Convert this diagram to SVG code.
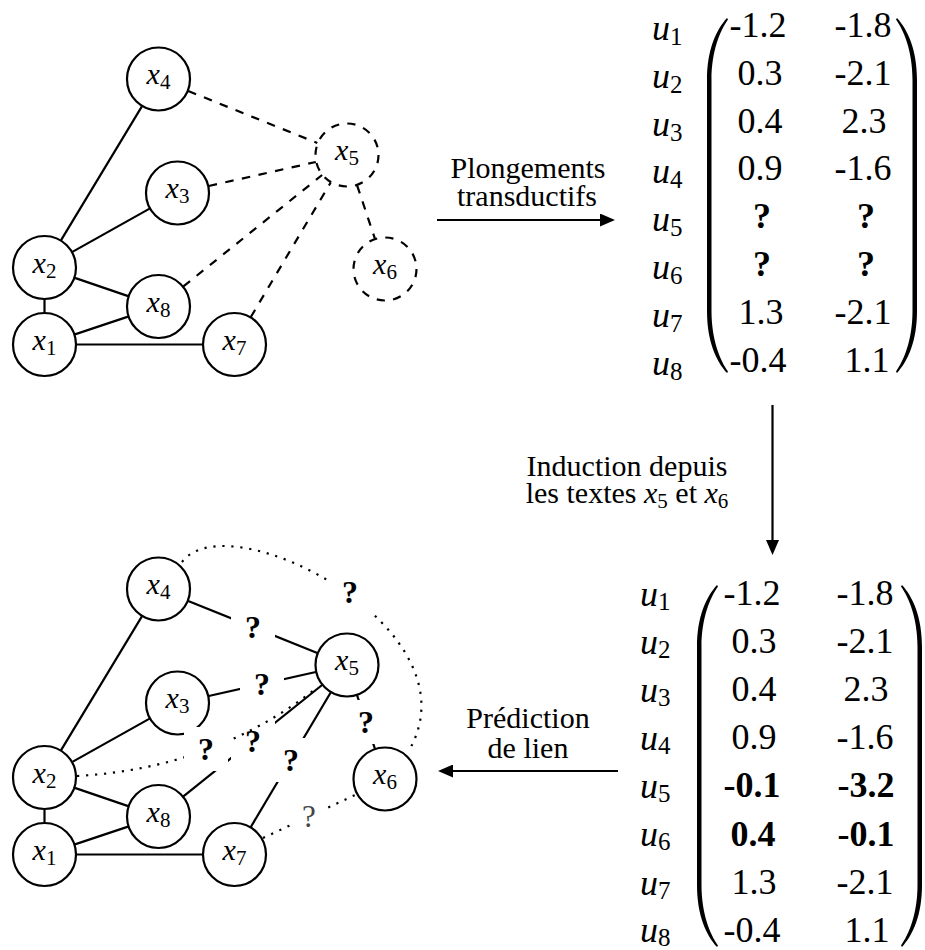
<svg xmlns="http://www.w3.org/2000/svg" width="925" height="950" viewBox="0 0 925 950" font-family="'Liberation Serif', 'DejaVu Serif', 'Noto Serif', serif">
<defs>
<style>
text{font-family:'Liberation Serif','DejaVu Serif','Noto Serif',serif}
.nc{fill:#fff;stroke:#000;stroke-width:2.2}
.dn{stroke-dasharray:8.25 8.25}
.lbl{font-size:30px;font-style:italic;text-anchor:middle;fill:#000}
.lbl tspan,.txt tspan.s{font-style:normal;font-size:21px}
.e{stroke:#000;stroke-width:2.2;fill:none}
.dash{stroke-dasharray:8.5 8.5}
.dot{stroke-dasharray:2.2 6.8}
.q{font-weight:bold;font-size:32px;text-anchor:middle;fill:#000}
.q2{font-size:31px;text-anchor:middle;fill:#444}
.qb{fill:#fff}
.txt{font-size:30px;text-anchor:middle;fill:#000}
.txt tspan.i{font-style:italic}
.num{font-size:36px;text-anchor:middle;fill:#000}
.b{font-weight:bold}
.u{font-size:36px;font-style:italic;fill:#000}
.u tspan{font-style:normal;font-size:25px}
.par{fill:#000}
.arr{stroke:#000;stroke-width:2.2;fill:none;marker-end:url(#ah)}
</style>
<marker id="ah" markerWidth="15" markerHeight="13" refX="3" refY="6.5" orient="auto" markerUnits="userSpaceOnUse">
<path d="M0,0 L15,6.5 L0,13 Z" fill="#000"/>
</marker>
</defs>
<rect width="925" height="950" fill="#fff"/>

<!-- ===== Top graph nodes ===== -->
<g id="top-nodes">
<g id="t-x1"><circle class="nc" cx="44.5" cy="344.5" r="31.5"/><text class="lbl" x="44.5" y="349.5">x<tspan dy="5">1</tspan></text></g>
<g id="t-x2"><circle class="nc" cx="44.5" cy="267.5" r="31.5"/><text class="lbl" x="44.5" y="272.5">x<tspan dy="5">2</tspan></text></g>
<g id="t-x3"><circle class="nc" cx="177.5" cy="193" r="31.5"/><text class="lbl" x="177.5" y="198">x<tspan dy="5">3</tspan></text></g>
<g id="t-x4"><circle class="nc" cx="158.5" cy="79" r="31.5"/><text class="lbl" x="158.5" y="84">x<tspan dy="5">4</tspan></text></g>
<g id="t-x5"><circle class="nc dn" cx="347" cy="155" r="31.5"/><text class="lbl" x="347" y="160">x<tspan dy="5">5</tspan></text></g>
<g id="t-x6"><circle class="nc dn" cx="385" cy="269" r="31.5"/><text class="lbl" x="385" y="274">x<tspan dy="5">6</tspan></text></g>
<g id="t-x7"><circle class="nc" cx="234.5" cy="344.5" r="31.5"/><text class="lbl" x="234.5" y="349.5">x<tspan dy="5">7</tspan></text></g>
<g id="t-x8"><circle class="nc" cx="158.5" cy="306.5" r="31.5"/><text class="lbl" x="158.5" y="311.5">x<tspan dy="5">8</tspan></text></g>
</g>

<!-- ===== Bottom graph nodes ===== -->
<g id="bottom-nodes">
<g id="b-x1"><circle class="nc" cx="44.5" cy="854.5" r="31.5"/><text class="lbl" x="44.5" y="859.5">x<tspan dy="5">1</tspan></text></g>
<g id="b-x2"><circle class="nc" cx="44.5" cy="777.5" r="31.5"/><text class="lbl" x="44.5" y="782.5">x<tspan dy="5">2</tspan></text></g>
<g id="b-x3"><circle class="nc" cx="177.5" cy="703" r="31.5"/><text class="lbl" x="177.5" y="708">x<tspan dy="5">3</tspan></text></g>
<g id="b-x4"><circle class="nc" cx="158.5" cy="589" r="31.5"/><text class="lbl" x="158.5" y="594">x<tspan dy="5">4</tspan></text></g>
<g id="b-x5"><circle class="nc" cx="347" cy="665" r="31.5"/><text class="lbl" x="347" y="670">x<tspan dy="5">5</tspan></text></g>
<g id="b-x6"><circle class="nc" cx="385" cy="779" r="31.5"/><text class="lbl" x="385" y="784">x<tspan dy="5">6</tspan></text></g>
<g id="b-x7"><circle class="nc" cx="234.5" cy="854.5" r="31.5"/><text class="lbl" x="234.5" y="859.5">x<tspan dy="5">7</tspan></text></g>
<g id="b-x8"><circle class="nc" cx="158.5" cy="816.5" r="31.5"/><text class="lbl" x="158.5" y="821.5">x<tspan dy="5">8</tspan></text></g>
</g>

<!-- ===== Connectors ===== -->
<g id="connectors">
<!-- top solid -->
<line class="e" x1="61.1" y1="240.1" x2="141.9" y2="106.4"/>
<line class="e" x1="72.4" y1="251.9" x2="149.6" y2="208.6"/>
<line class="e" x1="74.8" y1="277.9" x2="128.2" y2="296.1"/>
<line class="e" x1="44.5" y1="299.5" x2="44.5" y2="312.5"/>
<line class="e" x1="74.9" y1="334.4" x2="128.1" y2="316.6"/>
<line class="e" x1="76.5" y1="344.5" x2="202.5" y2="344.5"/>
<!-- top dashed -->
<line class="e dash" x1="188.2" y1="91" x2="317.3" y2="143"/>
<line class="e dash" x1="208.7" y1="186" x2="315.8" y2="162"/>
<line class="e dash" x1="183.4" y1="286.4" x2="322.1" y2="175"/>
<line class="e dash" x1="250.8" y1="317" x2="330.7" y2="182.5"/>
<line class="e dash" x1="357.1" y1="185.3" x2="374.9" y2="238.7"/>

<!-- bottom solid -->
<line class="e" x1="61.1" y1="750.1" x2="141.9" y2="616.4"/>
<line class="e" x1="72.4" y1="761.9" x2="149.6" y2="718.6"/>
<line class="e" x1="74.8" y1="787.9" x2="128.2" y2="806.1"/>
<line class="e" x1="44.5" y1="809.5" x2="44.5" y2="822.5"/>
<line class="e" x1="74.9" y1="844.4" x2="128.1" y2="826.6"/>
<line class="e" x1="76.5" y1="854.5" x2="202.5" y2="854.5"/>
<line class="e" x1="188.2" y1="601" x2="317.3" y2="653"/>
<line class="e" x1="208.7" y1="696" x2="315.8" y2="672"/>
<line class="e" x1="183.4" y1="796.4" x2="322.1" y2="685"/>
<line class="e" x1="250.8" y1="827" x2="330.7" y2="692.5"/>
<line class="e" x1="357.1" y1="695.3" x2="374.9" y2="748.7"/>
<!-- labels on solid bottom edges -->
<rect class="qb" x="231" y="605" width="44" height="44"/><text class="q" x="253" y="637.5">?</text>
<rect class="qb" x="240" y="662" width="44" height="44"/><text class="q" x="262" y="694.5">?</text>
<rect class="qb" x="231" y="719" width="44" height="44"/><text class="q" x="253" y="751.5">?</text>
<rect class="qb" x="269" y="738" width="44" height="44"/><text class="q" x="291" y="770.5">?</text>
<rect class="qb" x="344" y="700" width="44" height="44"/><text class="q" x="366" y="732.5">?</text>
<!-- bottom dotted -->
<path class="e dot" d="M77,776 Q214.5,768.5 318,687"/>
<path class="e dot" d="M182,562 C228,500 482,630 408,752"/>
<line class="e dot" x1="263" y1="838" x2="355" y2="795"/>
<rect class="qb" x="184" y="727" width="44" height="44"/><text class="q" x="206" y="759.5">?</text>
<rect class="qb" x="328" y="570" width="44" height="44"/><text class="q" x="350" y="602.5">?</text>
<rect class="qb" x="292" y="799" width="34" height="34"/><text class="q2" x="309" y="826.5">?</text>

<!-- process arrows -->
<line class="arr" x1="437" y1="220" x2="603" y2="220"/>
<line class="arr" x1="772.5" y1="405" x2="772.5" y2="543"/>
<line class="arr" x1="618" y1="771" x2="450" y2="771"/>
</g>

<!-- arrow labels -->
<g id="arrow-labels">
<text class="txt" x="528" y="178">Plongements</text>
<text class="txt" x="527" y="206">transductifs</text>
<text class="txt" x="627" y="476">Induction depuis</text>
<text class="txt" x="627" y="503">les textes <tspan class="i">x</tspan><tspan class="s" dy="5">5</tspan><tspan dy="-5"> et </tspan><tspan class="i">x</tspan><tspan class="s" dy="5">6</tspan></text>
<text class="txt" x="528" y="728">Prédiction</text>
<text class="txt" x="528" y="758">de lien</text>
</g>

<!-- ===== Top matrix ===== -->
<g id="matrix-top">
<path class="par" d="M727,18 C716,30 707,50 707,80 L707,311 C707,341 716,361 727,373 L728,371.5 C720,360 711.5,340 711.5,311 L711.5,80 C711.5,51 720,31 728,19.5 Z"/>
<path class="par" d="M897,18 C908,30 917,50 917,80 L917,311 C917,341 908,361 897,373 L896,371.5 C904,360 912.5,340 912.5,311 L912.5,80 C912.5,51 904,31 896,19.5 Z"/>
<text class="u" x="652" y="40">u<tspan dy="5">1</tspan></text>
<text class="u" x="652" y="88">u<tspan dy="5">2</tspan></text>
<text class="u" x="652" y="136">u<tspan dy="5">3</tspan></text>
<text class="u" x="652" y="183">u<tspan dy="5">4</tspan></text>
<text class="u" x="652" y="231">u<tspan dy="5">5</tspan></text>
<text class="u" x="652" y="279">u<tspan dy="5">6</tspan></text>
<text class="u" x="652" y="327">u<tspan dy="5">7</tspan></text>
<text class="u" x="652" y="375">u<tspan dy="5">8</tspan></text>
<text class="num" x="758" y="37">-1.2</text><text class="num" x="863" y="37">-1.8</text>
<text class="num" x="760" y="85">0.3</text><text class="num" x="863" y="85">-2.1</text>
<text class="num" x="760" y="133">0.4</text><text class="num" x="864" y="133">2.3</text>
<text class="num" x="760" y="180">0.9</text><text class="num" x="863" y="180">-1.6</text>
<text class="num b" x="762" y="228">?</text><text class="num b" x="866" y="228">?</text>
<text class="num b" x="762" y="276">?</text><text class="num b" x="866" y="276">?</text>
<text class="num" x="761" y="324">1.3</text><text class="num" x="863" y="324">-2.1</text>
<text class="num" x="758" y="372">-0.4</text><text class="num" x="867" y="372">1.1</text>
</g>

<!-- ===== Bottom matrix ===== -->
<g id="matrix-bottom">
<path class="par" d="M717,585 C706,597 697,617 697,647 L697,885 C697,915 706,935 717,947 L718,945.5 C710,934 701.5,914 701.5,885 L701.5,647 C701.5,618 710,598 718,586.5 Z"/>
<path class="par" d="M902,585 C913,597 922,617 922,647 L922,885 C922,915 913,935 902,947 L901,945.5 C909,934 917.5,914 917.5,885 L917.5,647 C917.5,618 909,598 901,586.5 Z"/>
<text class="u" x="640" y="606">u<tspan dy="4">1</tspan></text>
<text class="u" x="640" y="654">u<tspan dy="4">2</tspan></text>
<text class="u" x="640" y="702">u<tspan dy="4">3</tspan></text>
<text class="u" x="640" y="750">u<tspan dy="4">4</tspan></text>
<text class="u" x="640" y="798">u<tspan dy="4">5</tspan></text>
<text class="u" x="640" y="846">u<tspan dy="4">6</tspan></text>
<text class="u" x="640" y="895">u<tspan dy="4">7</tspan></text>
<text class="u" x="640" y="942">u<tspan dy="4">8</tspan></text>
<text class="num" x="752" y="605">-1.2</text><text class="num" x="865" y="605">-1.8</text>
<text class="num" x="754" y="653">0.3</text><text class="num" x="865" y="653">-2.1</text>
<text class="num" x="754" y="701">0.4</text><text class="num" x="866" y="701">2.3</text>
<text class="num" x="754" y="749">0.9</text><text class="num" x="865" y="749">-1.6</text>
<text class="num b" x="752" y="797">-0.1</text><text class="num b" x="866" y="797">-3.2</text>
<text class="num b" x="753" y="846">0.4</text><text class="num b" x="866" y="846">-0.1</text>
<text class="num" x="754" y="894">1.3</text><text class="num" x="865" y="894">-2.1</text>
<text class="num" x="752" y="942">-0.4</text><text class="num" x="867" y="942">1.1</text>
</g>
</svg>
